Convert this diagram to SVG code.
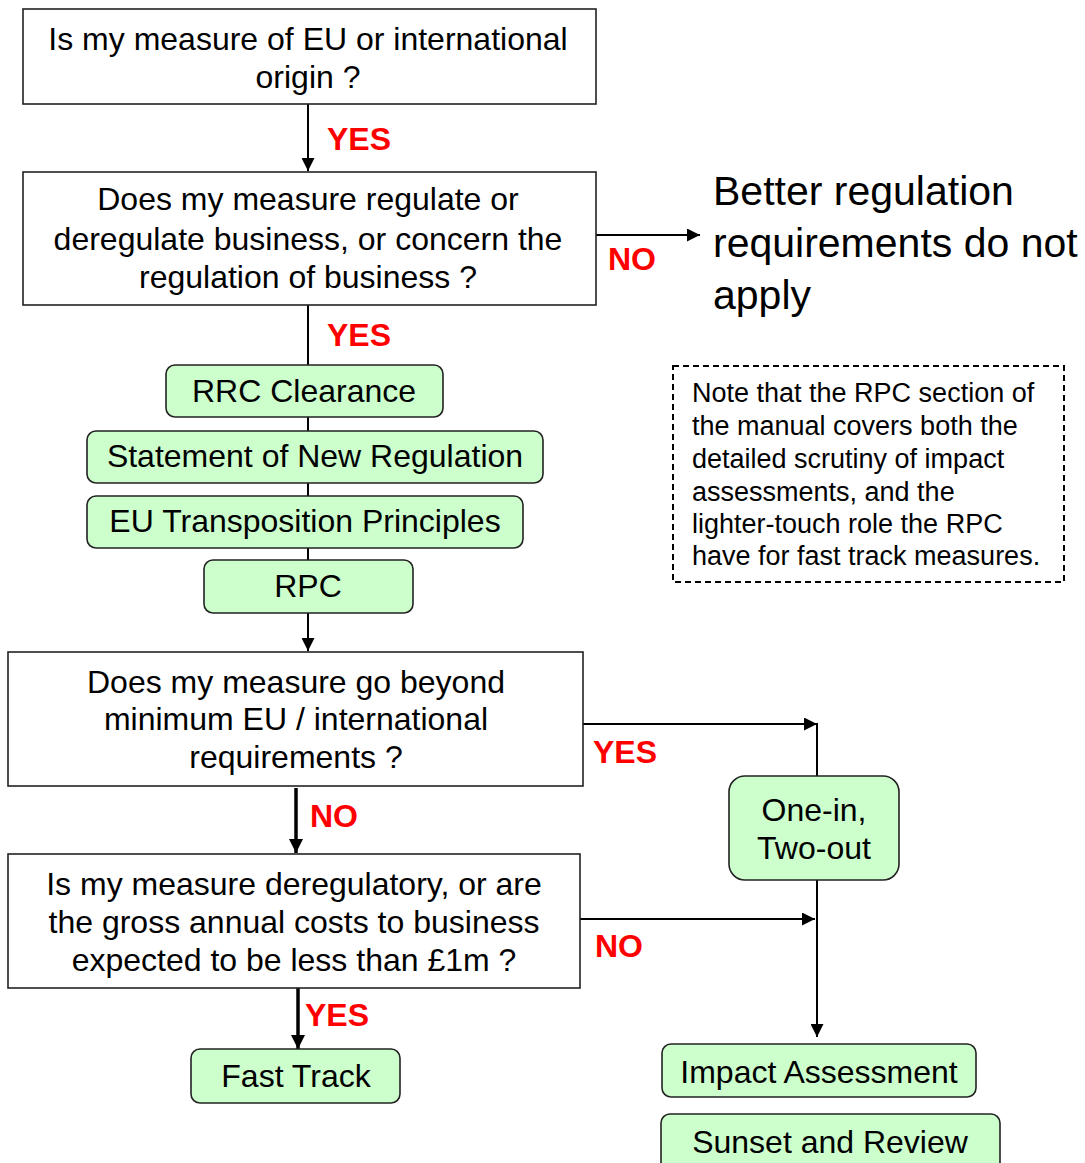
<svg xmlns="http://www.w3.org/2000/svg" width="1085" height="1163" viewBox="0 0 1085 1163">
<style>
text{font-family:"Liberation Sans",Arial,sans-serif;fill:#000}
.q{font-size:32px;text-anchor:middle}
.g{font-size:32px;text-anchor:middle}
.lbl{font-size:32px;font-weight:bold;fill:#ff0000}
.box{fill:#fff;stroke:#222;stroke-width:1.6}
.gr{fill:#ccffcc;stroke:#222;stroke-width:1.6}
.ln{stroke:#000;stroke-width:2;fill:none}
.thick{stroke:#000;stroke-width:3.5;fill:none}
.note{font-size:27px}
</style>
<defs>
<marker id="ah" viewBox="0 0 10 10" refX="10" refY="5" markerWidth="13" markerHeight="13" markerUnits="userSpaceOnUse" orient="auto"><path d="M0,0 L10,5 L0,10 z" fill="#000"/></marker>
<marker id="ahs" viewBox="0 0 10 10" refX="10" refY="5" markerWidth="14" markerHeight="14" markerUnits="userSpaceOnUse" orient="auto"><path d="M0,0 L10,5 L0,10 z" fill="#000"/></marker>
</defs>
<g id="connectors">
<line class="ln" x1="308" y1="104" x2="308" y2="171" marker-end="url(#ah)"/>
<line class="ln" x1="596" y1="235" x2="700" y2="235" marker-end="url(#ah)"/>
<line class="ln" x1="308" y1="305" x2="308" y2="651" marker-end="url(#ah)"/>
<line class="ln" x1="582" y1="724" x2="817" y2="724" marker-end="url(#ah)"/>
<line class="ln" x1="817" y1="723" x2="817" y2="776"/>
<line class="thick" x1="296" y1="788" x2="296" y2="853" marker-end="url(#ahs)"/>
<line class="ln" x1="580" y1="919" x2="815" y2="919" marker-end="url(#ah)"/>
<line class="ln" x1="817" y1="880" x2="817" y2="1037" marker-end="url(#ah)"/>
<line class="thick" x1="298" y1="987" x2="298" y2="1049" marker-end="url(#ahs)"/>
<text class="lbl" x="327" y="150">YES</text>
<text class="lbl" x="608" y="270">NO</text>
<text class="lbl" x="327" y="346">YES</text>
<text class="lbl" x="593" y="763">YES</text>
<text class="lbl" x="310" y="827">NO</text>
<text class="lbl" x="595" y="957">NO</text>
<text class="lbl" x="305" y="1026">YES</text>
</g>
<g id="q1">
<rect class="box" x="23" y="9" width="573" height="95"/>
<text class="q" x="308" y="50">Is my measure of EU or international</text>
<text class="q" x="308" y="88">origin ?</text>
</g>
<g id="q2">
<rect class="box" x="23" y="172" width="573" height="133"/>
<text class="q" x="308" y="210">Does my measure regulate or</text>
<text class="q" x="308" y="250">deregulate business, or concern the</text>
<text class="q" x="308" y="288">regulation of business ?</text>
</g>
<g id="notapply">
<text x="713" y="205" style="font-size:41px">Better regulation</text>
<text x="713" y="257" style="font-size:41px">requirements do not</text>
<text x="713" y="309" style="font-size:41px">apply</text>
</g>
<g id="note">
<rect x="673" y="366" width="391" height="216" fill="none" stroke="#000" stroke-width="2" stroke-dasharray="6,4"/>
<text class="note" x="692" y="402">Note that the RPC section of</text>
<text class="note" x="692" y="435">the manual covers both the</text>
<text class="note" x="692" y="468">detailed scrutiny of impact</text>
<text class="note" x="692" y="501">assessments, and the</text>
<text class="note" x="692" y="533">lighter-touch role the RPC</text>
<text class="note" x="692" y="565">have for fast track measures.</text>
</g>
<g id="rrc">
<rect class="gr" x="166" y="365" width="277" height="52" rx="9"/>
<text class="g" x="304" y="402">RRC Clearance</text>
</g>
<g id="snr">
<rect class="gr" x="87" y="431" width="456" height="52" rx="9"/>
<text class="g" x="315" y="467">Statement of New Regulation</text>
</g>
<g id="eutp">
<rect class="gr" x="87" y="496" width="436" height="52" rx="9"/>
<text class="g" x="305" y="532">EU Transposition Principles</text>
</g>
<g id="rpc">
<rect class="gr" x="204" y="560" width="209" height="53" rx="9"/>
<text class="g" x="308" y="597">RPC</text>
</g>
<g id="q3">
<rect class="box" x="8" y="652" width="575" height="134"/>
<text class="q" x="296" y="693">Does my measure go beyond</text>
<text class="q" x="296" y="730">minimum EU / international</text>
<text class="q" x="296" y="768">requirements ?</text>
</g>
<g id="q4">
<rect class="box" x="8" y="854" width="572" height="134"/>
<text class="q" x="294" y="895">Is my measure deregulatory, or are</text>
<text class="q" x="294" y="933">the gross annual costs to business</text>
<text class="q" x="294" y="971">expected to be less than £1m ?</text>
</g>
<g id="oneintwoout">
<rect class="gr" x="729" y="776" width="170" height="104" rx="16"/>
<text class="g" x="814" y="821">One-in,</text>
<text class="g" x="814" y="859">Two-out</text>
</g>
<g id="fasttrack">
<rect class="gr" x="191" y="1049" width="209" height="54" rx="9"/>
<text class="g" x="296" y="1087">Fast Track</text>
</g>
<g id="ia">
<rect class="gr" x="662" y="1044" width="314" height="53" rx="9"/>
<text class="g" x="819" y="1083">Impact Assessment</text>
</g>
<g id="sunset">
<rect class="gr" x="661" y="1114" width="339" height="60" rx="9"/>
<text class="g" x="830" y="1153">Sunset and Review</text>
</g>
</svg>
